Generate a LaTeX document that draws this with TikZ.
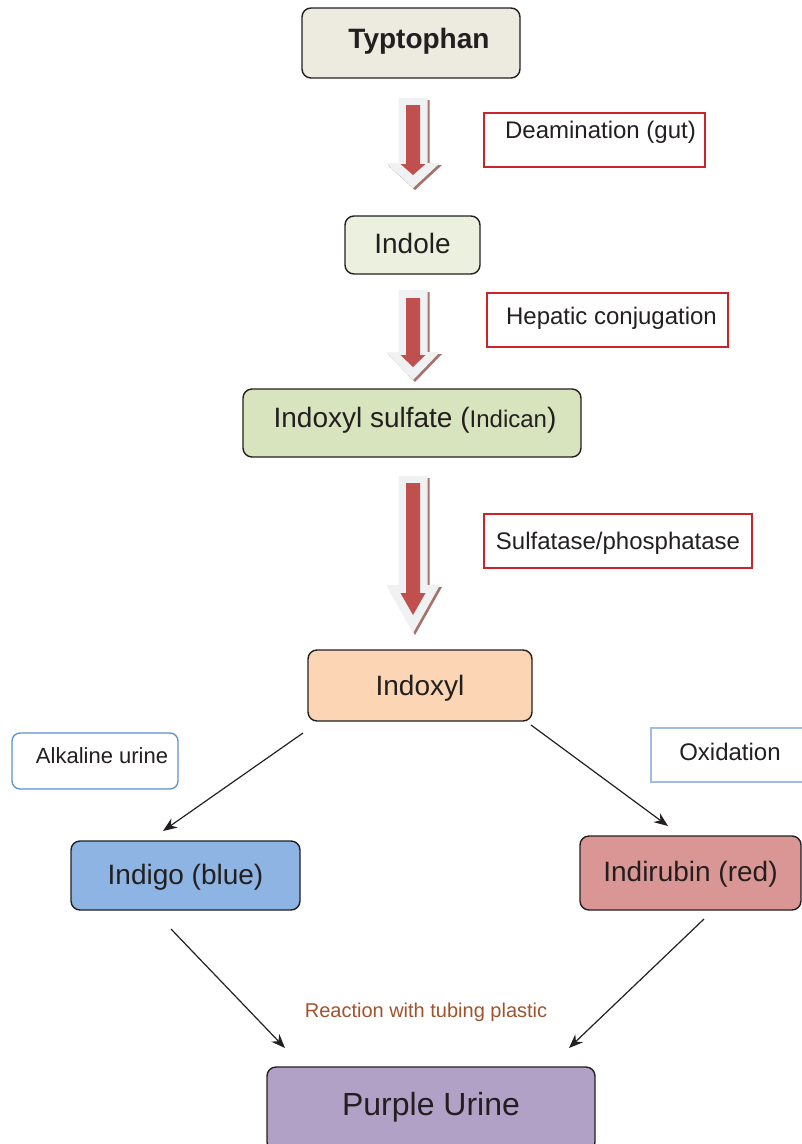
\documentclass[tikz,border=0pt]{standalone}
\usepackage{fontspec}
\setmainfont{Liberation Sans}
\usetikzlibrary{arrows.meta}
\definecolor{txt}{HTML}{231F20}
\definecolor{ctyp}{HTML}{EDEAE0}
\definecolor{cindole}{HTML}{EBF1DE}
\definecolor{csulf}{HTML}{D7E4BD}
\definecolor{cindoxyl}{HTML}{FCD5B5}
\definecolor{cindigo}{HTML}{8DB4E2}
\definecolor{cindir}{HTML}{D99694}
\definecolor{cpurple}{HTML}{B2A1C7}
\definecolor{agray}{HTML}{F0F1F3}
\definecolor{ared}{HTML}{C0504D}
\definecolor{ashadow}{HTML}{A5736A}
\definecolor{lred}{HTML}{C8242B}
\definecolor{lblue}{HTML}{5B8FD0}
\definecolor{lblue2}{HTML}{A0BCE4}
\definecolor{reactc}{HTML}{A0522D}
\newcommand\fsz[1]{\fontsize{#1}{#1}\selectfont}
\newcommand\lift[2]{\raisebox{#1}[\height][\depth]{#2}}
\newcommand\blockarr[7]{%
  \fill[ashadow, shift={(2,2)}] ({#1-14.5},#2) -- ({#1+14.5},#2) -- ({#1+14.5},#3) -- ({#1+27},#3) -- (#1,#4) -- ({#1-27},#3) -- ({#1-14.5},#3) -- cycle;
  \fill[agray] ({#1-14.5},#2) -- ({#1+14.5},#2) -- ({#1+14.5},#3) -- ({#1+27},#3) -- (#1,#4) -- ({#1-27},#3) -- ({#1-14.5},#3) -- cycle;
  \fill[ared] ({#1-7},#5) -- ({#1+7},#5) -- ({#1+7},#6) -- ({#1+12.5},#6) -- (#1,#7) -- ({#1-12.5},#6) -- ({#1-7},#6) -- cycle;
}
\begin{document}
\begin{tikzpicture}[x=1pt,y=-1pt,
  box/.style={draw=txt, line width=1.4pt, rounded corners=9pt, text=txt, inner sep=0pt, align=center},
  redlab/.style={draw=lred, line width=1.3pt, text=txt, inner sep=0pt, align=center, font=\fsz{24}},
  conn/.style={draw=txt, line width=1.2pt, -{Stealth[length=14pt,width=11pt]}}]
\useasboundingbox (0,0) rectangle (802,1144);
\clip (0,0) rectangle (802,1144);

% main nodes
\node[box, fill=ctyp, minimum width=218pt, minimum height=70pt, font=\fsz{28}\bfseries] (typ) at (411,43) {\lift{2pt}{\hspace*{16pt}Typtophan}};
\node[box, fill=cindole, minimum width=135pt, minimum height=58pt, font=\fsz{28}] (indole) at (412.5,245) {\lift{2pt}{Indole}};
\node[box, fill=csulf, minimum width=338pt, minimum height=68pt, font=\fsz{28}] (sulf) at (412,423) {\lift{3pt}{\hspace*{6pt}Indoxyl sulfate ({\fsz{24}Indican})}};
\node[box, fill=cindoxyl, minimum width=224pt, minimum height=71pt, font=\fsz{28}] (indoxyl) at (420,685.5) {\lift{-3pt}{Indoxyl}};
\node[box, fill=cindigo, minimum width=229pt, minimum height=69pt, font=\fsz{28}] (indigo) at (185.5,875.5) {\lift{-2pt}{Indigo (blue)}};
\node[box, fill=cindir, minimum width=221pt, minimum height=74pt, font=\fsz{28}] (indir) at (690.5,873) {\lift{-1pt}{Indirubin (red)}};
\node[box, fill=cpurple, minimum width=328pt, minimum height=84pt, font=\fsz{32}] (purple) at (431,1109) {\lift{2pt}{Purple Urine}};

% labels
\node[redlab, minimum width=221pt, minimum height=54pt] (deam) at (594.5,140) {\lift{8pt}{\hspace*{12pt}Deamination (gut)}};
\node[redlab, minimum width=241pt, minimum height=54pt] (hep) at (607.5,320) {\lift{2pt}{\hspace*{8pt}Hepatic conjugation}};
\node[redlab, minimum width=268pt, minimum height=54pt] (sulfa) at (618,541) {\lift{-2.5pt}{Sulfatase/phosphatase}};
\node[draw=lblue, line width=1.3pt, rounded corners=8pt, text=txt, inner sep=0pt, minimum width=166pt, minimum height=56pt, font=\fsz{22}] (alk) at (95,761) {\lift{5.5pt}{\hspace*{14pt}Alkaline urine}};
\node[draw=lblue2, line width=1.3pt, text=txt, inner sep=0pt, minimum width=156pt, minimum height=54pt, font=\fsz{24}] (oxid) at (729,755) {\lift{3.5pt}{Oxidation\hspace*{-2pt}}};
\node[text=reactc, font=\fsz{20}, inner sep=0pt] (react) at (426,1012) {Reaction with tubing plastic};

% block arrows
\blockarr{413}{98}{163}{188}{105}{164}{175}
\blockarr{413}{290}{352}{380}{298}{355}{367}
\blockarr{413}{476}{585}{633}{483}{593}{615}

% connectors
\coordinate (c1s) at (303,733);
\coordinate (c1e) at (163,831);
\coordinate (c2s) at (531,725);
\coordinate (c2e) at (668,826);
\coordinate (c3s) at (171,929);
\coordinate (c3e) at (285,1048);
\coordinate (c4s) at (704,919);
\coordinate (c4e) at (569,1048);
\draw[conn] (c1s) -- (c1e);
\draw[conn] (c2s) -- (c2e);
\draw[conn] (c3s) -- (c3e);
\draw[conn] (c4s) -- (c4e);
\end{tikzpicture}
\end{document}
